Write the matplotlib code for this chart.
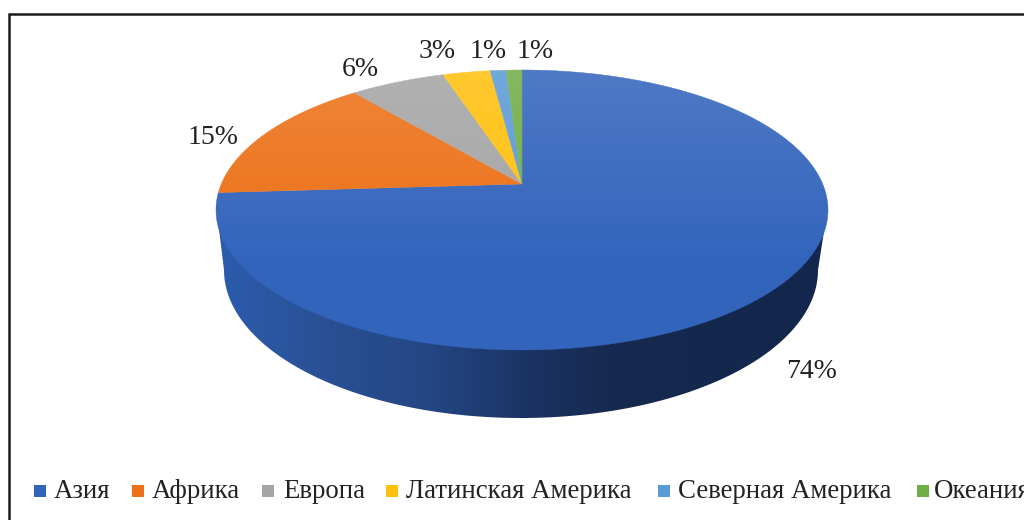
import numpy as np
import matplotlib
matplotlib.use('Agg')
import matplotlib.pyplot as plt
from matplotlib.colors import LinearSegmentedColormap
from matplotlib.patches import Polygon

regions = ['Азия', 'Африка', 'Европа', 'Латинская Америка', 'Северная Америка', 'Океания']
shares = [74, 15, 6, 3, 1, 1]
colors = ['#3364BC', '#EC7118', '#A5A5A5', '#FFC00E', '#5B9BD5', '#70AD47']

# layout in pixels
label_xy = [(812, 371), (213, 137), (360, 69), (437, 52), (488, 51), (535, 51)]
legend_marker_x = [40, 138, 268, 392, 664, 923]
legend_text_x = [54, 152, 283, 406, 678, 934]
LEGEND_BASE_Y = 498

plt.rcParams['font.family'] = ['Liberation Serif', 'DejaVu Serif']
TEXT = '#222222'

# pie top is a circle seen in perspective, so the apex is above the ellipse centre
CX, APEX_Y, TOP_Y, RX = 522, 184, 70, 306
c = 52 / 280
a = TOP_Y * c - (APEX_Y - TOP_Y)
k = RX * np.sqrt(1 - c ** 2)


def project(theta):
    # theta is clockwise from the top of the pie, in radians
    u, v = np.sin(theta), np.cos(theta)
    w = c * v + 1
    return CX + k * u / w, (a * v + APEX_Y) / w


fig = plt.figure(figsize=(10.24, 5.2), dpi=100)
ax = fig.add_axes([0, 0, 1, 1])

# side wall, dark gradient clipped to the lower rim
t = np.linspace(-np.pi / 2, np.pi / 2, 200)
low_x = 521 + 297 * np.sin(t)
low_y = 270 + 148 * np.cos(t)
wall_pts = np.vstack([[[216, 205]], np.column_stack([low_x, low_y]), [[828, 205]]])
wall_cmap = LinearSegmentedColormap.from_list('wall', [
    (0.0, '#2C5CAE'), (0.15, '#2A5298'), (0.35, '#244683'), (0.5, '#1B3465'),
    (0.65, '#16294F'), (1.0, '#13274C')])
wall = ax.imshow(np.linspace(0, 1, 300).reshape(1, -1), cmap=wall_cmap,
                 extent=[216, 828, 425, 200], aspect='auto', zorder=1)
wall_clip = Polygon(wall_pts, closed=True, transform=ax.transData, fc='none', ec='none')
ax.add_patch(wall_clip)
wall.set_clip_path(wall_clip)

# slices of the top face
edges = np.cumsum([0] + shares) / sum(shares) * 2 * np.pi
for start, stop, col in zip(edges[:-1], edges[1:], colors):
    th = np.linspace(start, stop, 200)
    x, y = project(th)
    ax.fill(np.r_[CX, x], np.r_[APEX_Y, y], color=col, lw=0.3, zorder=2)

# soft light at the back of the top face
rim_x, rim_y = project(np.linspace(0, 2 * np.pi, 400))
shine = np.zeros((200, 2, 4))
shine[..., :3] = 1
shine[..., 3] = np.clip(np.linspace(0.14, -0.06, 200), 0, 1)[:, None]
glow = ax.imshow(shine, extent=[200, 840, 352, 68], aspect='auto', zorder=3)
glow_clip = Polygon(np.column_stack([rim_x, rim_y]), closed=True, transform=ax.transData,
                    fc='none', ec='none')
ax.add_patch(glow_clip)
glow.set_clip_path(glow_clip)

for share, (lx, ly) in zip(shares, label_xy):
    ax.text(lx, ly, f'{share}%', fontsize=20, color=TEXT, ha='center', va='center', zorder=4)

# legend by hand, the last entry runs off the right edge as in the original
for name, col, mx, tx in zip(regions, colors, legend_marker_x, legend_text_x):
    ax.scatter([mx], [LEGEND_BASE_Y - 7], marker='s', s=72, color=col, linewidths=0, zorder=4)
    ax.text(tx, LEGEND_BASE_Y, name, fontsize=19.4, color=TEXT, ha='left', va='baseline', zorder=4)

# frame of the pasted chart, open on the right and at the bottom
ax.plot([9, 9, 1024], [520, 14, 14], color='#1a1a1a', lw=1.8, solid_joinstyle='miter', zorder=5)

ax.set_xlim(0, 1024)
ax.set_ylim(520, 0)
ax.axis('off')

fig.savefig('out.png', dpi=100)
